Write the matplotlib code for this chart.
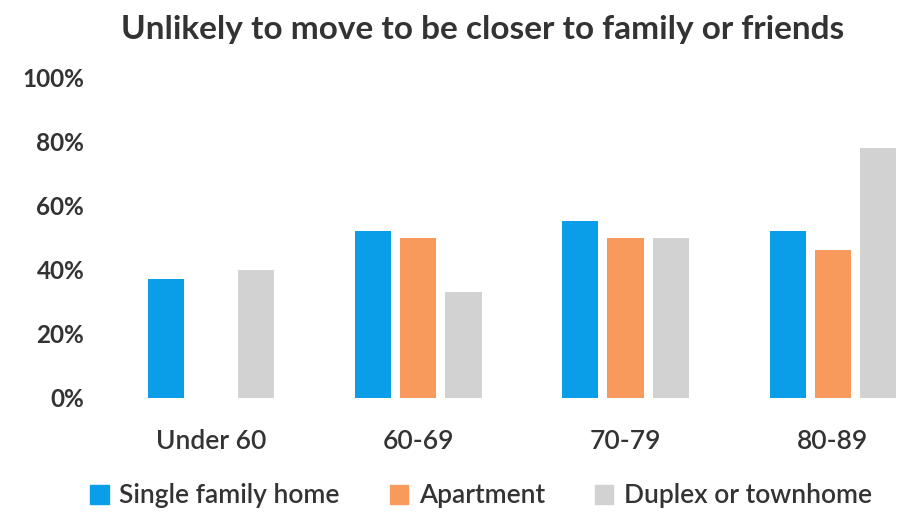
import numpy as np
import matplotlib
matplotlib.use("Agg")
import matplotlib.pyplot as plt
from matplotlib.patches import Patch

# --- data ---
categories = ['Under 60', '60-69', '70-79', '80-89']
series_names = ['Single family home', 'Apartment', 'Duplex or townhome']
single_family = [37, 52, 55, 52]
apartment = [0, 50, 50, 46]
duplex = [40, 33, 50, 78]
y_ticks = [0, 20, 40, 60, 80, 100]
y_tick_labels = ['0%', '20%', '40%', '60%', '80%', '100%']

colors = ['#0A9DE8', '#F89A5C', '#D2D2D2']
text_color = '#333333'

plt.rcParams['font.family'] = ['Lato', 'DejaVu Sans']

fig = plt.figure(figsize=(9.07, 5.16), dpi=100)
W, H = 907, 516
# axes placement in pixels (left, top, right, bottom)
ax_l, ax_t, ax_r, ax_b = 105, 60, 905, 410
ax = fig.add_axes([ax_l / W, 1 - ax_b / H, (ax_r - ax_l) / W, (ax_b - ax_t) / H])

x = np.arange(len(categories))
bar_w = 0.175
step = 0.218
for i, (vals, c) in enumerate(zip([single_family, apartment, duplex], colors)):
    ax.bar(x + (i - 1) * step, vals, width=bar_w, color=c, label=series_names[i])

ax.set_xlim(-0.511, 3.348)
ax.set_ylim(-3.74, 105.3)
ax.set_yticks(y_ticks)
ax.set_yticklabels(y_tick_labels)
ax.set_xticks(x)
ax.set_xticklabels(categories)
ax.tick_params(axis='y', length=0, pad=15, labelsize=17.5, labelcolor=text_color)
ax.tick_params(axis='x', length=0, pad=14, labelsize=19, labelcolor=text_color)
for lbl in ax.get_yticklabels():
    lbl.set_fontweight('bold')
for lbl in ax.get_xticklabels():
    lbl.set_fontweight('semibold')
for s in ax.spines.values():
    s.set_visible(False)

fig.text(483 / W, 1 - 30 / H, 'Unlikely to move to be closer to family or friends',
         ha='center', va='center', fontsize=24, fontweight='bold', color=text_color)

handles = [Patch(color=c) for c in colors]
fig.legend(handles, series_names, loc='center', bbox_to_anchor=(481 / W, 1 - 496 / H),
           ncol=3, frameon=False, handlelength=0.7, handleheight=0.7,
           columnspacing=1.9, handletextpad=0.4,
           prop={'weight': 'semibold', 'size': 19})
for t in fig.legends[0].get_texts():
    t.set_color(text_color)

fig.savefig('out.png', dpi=100, facecolor='white')
